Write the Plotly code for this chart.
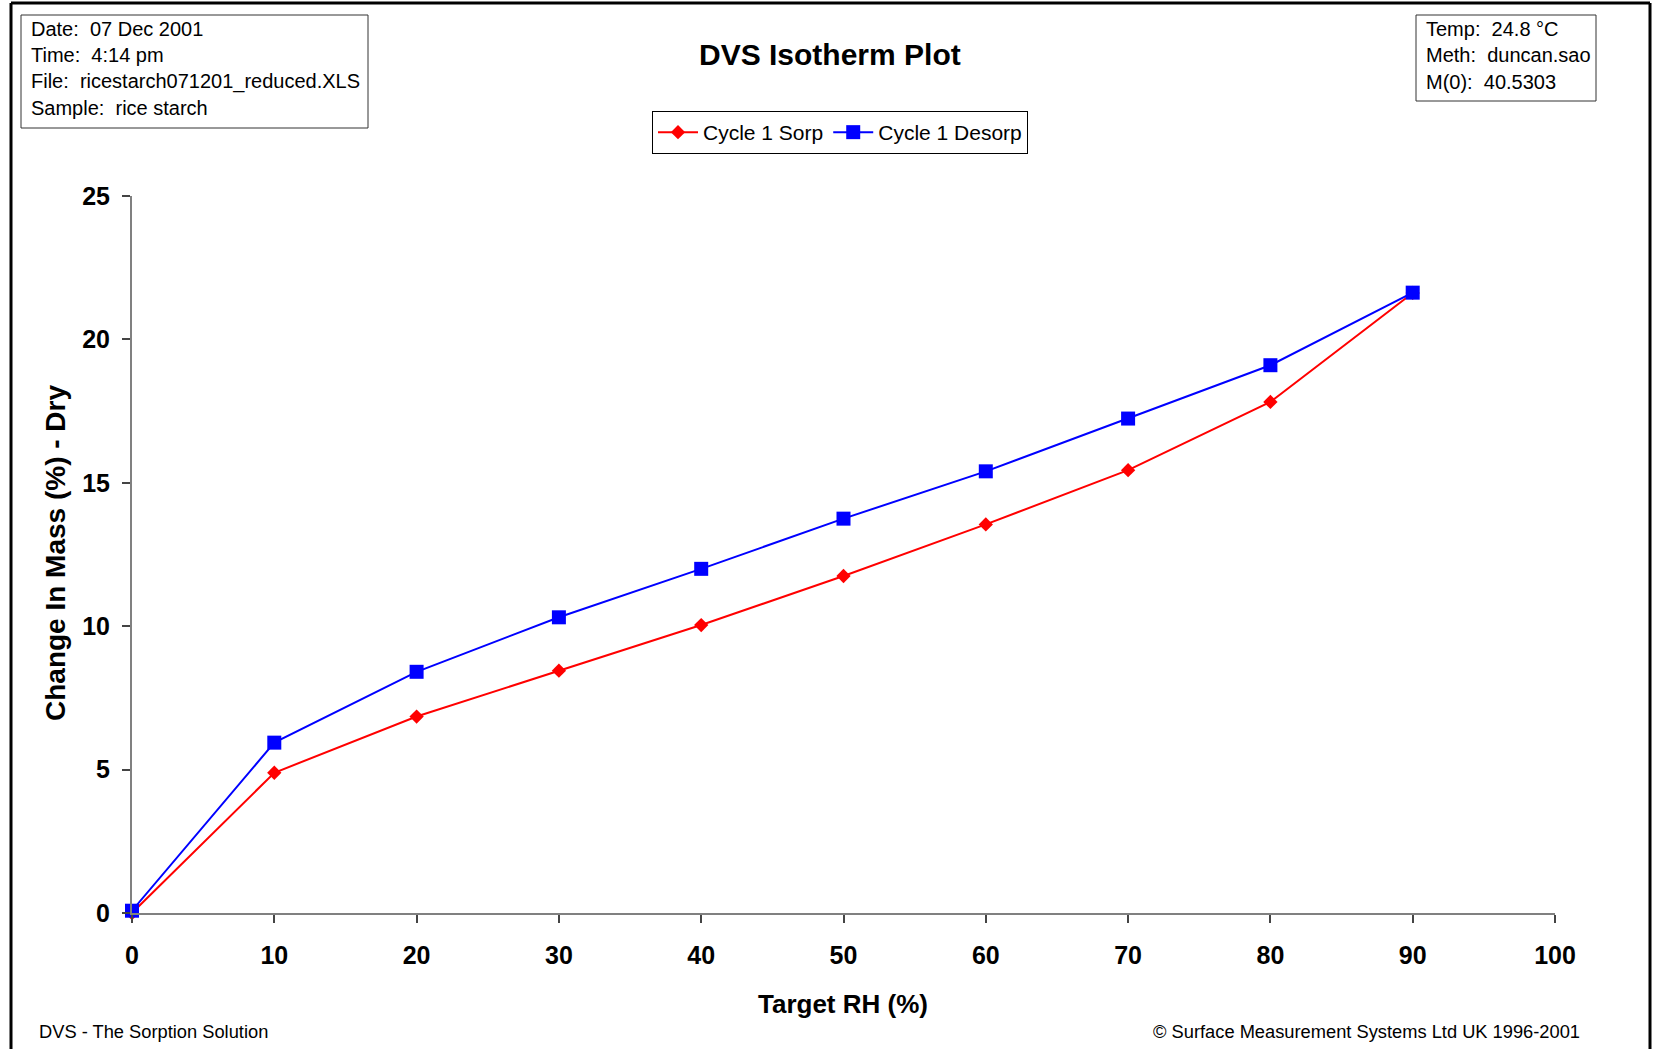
import plotly.graph_objects as go

# Isotherm data: target relative humidity vs. change in mass (dry basis)
target_rh = [0, 10, 20, 30, 40, 50, 60, 70, 80, 90]
sorp = [0.0, 4.89, 6.85, 8.45, 10.04, 11.75, 13.55, 15.44, 17.82, 21.62]
desorp = [0.08, 5.94, 8.41, 10.31, 12.00, 13.75, 15.40, 17.24, 19.10, 21.63]

x_ticks = [0, 10, 20, 30, 40, 50, 60, 70, 80, 90, 100]
y_ticks = [0, 5, 10, 15, 20, 25]

info_left = ["Date:  07 Dec 2001", "Time:  4:14 pm",
             "File:  ricestarch071201_reduced.XLS", "Sample:  rice starch"]
info_right = ["Temp:  24.8 °C", "Meth:  duncan.sao", "M(0):  40.5303"]

FONT = "Liberation Sans, Arial, Helvetica, sans-serif"
W, H = 1653, 1049
L, R, T, B = 132, 1555, 196, 913  # plot-area edges in pixels


def px(xp):
    return (xp - L) / (R - L)


def py(yp):
    return (B - yp) / (B - T)


fig = go.Figure()
fig.add_trace(go.Scatter(
    x=target_rh, y=sorp, name="Cycle 1 Sorp", mode="lines+markers",
    line=dict(color="#ff0000", width=2),
    marker=dict(symbol="diamond", size=11, color="#ff0000"),
    cliponaxis=False,
))
fig.add_trace(go.Scatter(
    x=target_rh, y=desorp, name="Cycle 1 Desorp", mode="lines+markers",
    line=dict(color="#0000ff", width=2),
    marker=dict(symbol="square", size=14, color="#0000ff"),
    cliponaxis=False,
))

shapes = []
# outer frame (bottom edge falls outside the page)
for x0, y0, x1, y1 in [(11, 3, 11, H + 5), (11, 3, 1650, 3), (1650, 3, 1650, H + 5)]:
    shapes.append(dict(type="line", xref="paper", yref="paper",
                       x0=px(x0), y0=py(y0), x1=px(x1), y1=py(y1),
                       line=dict(color="black", width=3)))
# info boxes
for x0, y0, x1, y1 in [(21, 15, 368, 128), (1416, 15, 1596, 101)]:
    shapes.append(dict(type="rect", xref="paper", yref="paper",
                       x0=px(x0), y0=py(y0), x1=px(x1), y1=py(y1),
                       line=dict(color="#333333", width=1)))

annotations = []
for i, line in enumerate(info_left):
    annotations.append(dict(text=line, xref="paper", yref="paper",
                            x=px(29), y=py(29 + i * 26.4), xanchor="left", yanchor="middle",
                            showarrow=False, font=dict(family=FONT, size=20, color="black")))
for i, line in enumerate(info_right):
    annotations.append(dict(text=line, xref="paper", yref="paper",
                            x=px(1424), y=py(29 + i * 26.4), xanchor="left", yanchor="middle",
                            showarrow=False, font=dict(family=FONT, size=20, color="black")))

annotations += [
    dict(text="DVS Isotherm Plot", xref="paper", yref="paper", x=px(830), y=py(54),
         xanchor="center", yanchor="middle", showarrow=False,
         font=dict(family=FONT, size=30, color="black", weight="bold")),
    dict(text="Target RH (%)", xref="paper", yref="paper", x=px(843), y=py(1004),
         xanchor="center", yanchor="middle", showarrow=False,
         font=dict(family=FONT, size=26, color="black", weight="bold")),
    dict(text="Change In Mass (%) - Dry", xref="paper", yref="paper", x=px(55), y=py(553),
         xanchor="center", yanchor="middle", showarrow=False, textangle=-90,
         font=dict(family=FONT, size=28, color="black", weight="bold")),
    dict(text="DVS - The Sorption Solution", xref="paper", yref="paper", x=px(37), y=py(1031),
         xanchor="left", yanchor="middle", showarrow=False,
         font=dict(family=FONT, size=18.3, color="black")),
    dict(text="© Surface Measurement Systems Ltd UK 1996-2001", xref="paper", yref="paper",
         x=px(1582), y=py(1031), xanchor="right", yanchor="middle", showarrow=False,
         font=dict(family=FONT, size=18.3, color="black")),
]

fig.update_layout(
    width=W, height=H,
    margin=dict(l=L, r=W - R, t=T, b=H - B, pad=0),
    paper_bgcolor="white", plot_bgcolor="white",
    font=dict(family=FONT, color="black"),
    showlegend=True,
    legend=dict(orientation="h", x=px(840), y=py(111), xanchor="center", yanchor="top",
                bordercolor="black", borderwidth=1, bgcolor="white",
                font=dict(family=FONT, size=21, color="black"),
                itemwidth=40, tracegroupgap=0),
    shapes=shapes,
    annotations=annotations,
)

fig.update_xaxes(
    range=[0, 100], tickvals=x_ticks, ticktext=[str(v) for v in x_ticks],
    showgrid=False, zeroline=False, showline=True, linecolor="#808080", linewidth=2,
    ticks="outside", ticklen=8, tickwidth=1.5, tickcolor="#444444",
    tickfont=dict(family=FONT, size=25, color="black", weight="bold"),
    ticklabelstandoff=11,
)
fig.update_yaxes(
    range=[0, 25], tickvals=y_ticks, ticktext=[str(v) for v in y_ticks],
    showgrid=False, zeroline=False, showline=True, linecolor="#808080", linewidth=2,
    ticks="outside", ticklen=8, tickwidth=1.5, tickcolor="#444444",
    tickfont=dict(family=FONT, size=25, color="black", weight="bold"),
    ticklabelstandoff=7,
)

fig.write_html("out.html")
